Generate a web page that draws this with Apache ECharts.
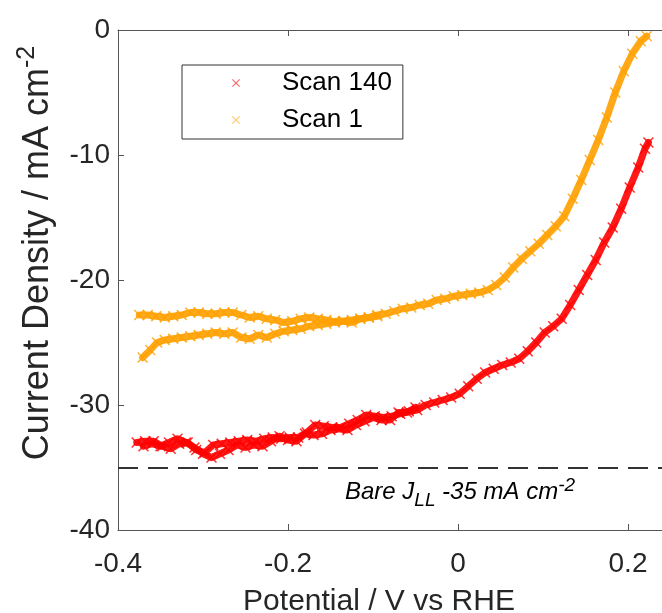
<!DOCTYPE html>
<html>
<head>
<meta charset="utf-8">
<script src="https://cdn.jsdelivr.net/npm/echarts@6/dist/echarts.min.js"></script>
<style>
html,body{margin:0;padding:0;background:#fff;}
#chart{width:662px;height:613px;}
</style>
</head>
<body>
<div id="chart"></div>
<script>
// ---- data ----
const xTicks = [-0.4, -0.2, 0, 0.2];
const yTicks = [-40, -30, -20, -10, 0];

// Scan 1 (orange) – branch A: lower-left start, up to the top right
const scan1AX = [-0.371,-0.362,-0.354,-0.345,-0.335,-0.325,-0.315,-0.305,-0.295,-0.285,-0.275,-0.265,-0.255,-0.245,-0.235,-0.225,-0.215,-0.205,-0.195,-0.185,-0.175,-0.165,-0.155,-0.145,-0.135,-0.125,-0.115,-0.105,-0.095,-0.085,-0.075,-0.065,-0.055,-0.045,-0.035,-0.025,-0.015,-0.005,0.005,0.015,0.025,0.035,0.045,0.055,0.065,0.075,0.085,0.095,0.105,0.115,0.125,0.135,0.145,0.155,0.165,0.175,0.185,0.195,0.205,0.215,0.222];
const scan1AY = [-26.2,-25.6,-25.0,-24.8,-24.7,-24.6,-24.5,-24.4,-24.3,-24.2,-24.3,-24.2,-24.6,-24.7,-24.4,-24.6,-24.3,-24.1,-24.0,-23.9,-23.7,-23.6,-23.5,-23.3,-23.3,-23.4,-23.1,-23.0,-22.8,-22.7,-22.5,-22.3,-22.2,-22.0,-21.9,-21.6,-21.5,-21.3,-21.2,-21.1,-21.0,-20.8,-20.4,-19.8,-19.0,-18.3,-17.7,-17.1,-16.4,-15.7,-14.9,-13.5,-12.0,-10.4,-8.8,-7.0,-5.0,-3.3,-1.9,-0.9,-0.5];
// Scan 1 – branch B: upper return branch on the left
const scan1BX = [-0.095,-0.105,-0.115,-0.125,-0.135,-0.145,-0.155,-0.165,-0.175,-0.185,-0.195,-0.205,-0.215,-0.225,-0.235,-0.245,-0.255,-0.265,-0.275,-0.285,-0.295,-0.305,-0.315,-0.325,-0.335,-0.345,-0.355,-0.365,-0.375];
const scan1BY = [-22.9,-23.0,-23.1,-23.2,-23.3,-23.4,-23.2,-23.1,-23.0,-23.1,-23.3,-23.4,-23.2,-23.1,-22.9,-23.0,-22.8,-22.6,-22.6,-22.7,-22.7,-22.6,-22.6,-22.8,-22.9,-23.0,-22.9,-22.8,-22.8];

// Scan 140 (red) – branch A
const scan140AX = [-0.378,-0.368,-0.358,-0.348,-0.338,-0.328,-0.318,-0.308,-0.298,-0.288,-0.278,-0.268,-0.258,-0.248,-0.238,-0.228,-0.218,-0.208,-0.198,-0.188,-0.178,-0.168,-0.158,-0.148,-0.138,-0.128,-0.118,-0.108,-0.098,-0.088,-0.078,-0.068,-0.058,-0.048,-0.038,-0.028,-0.018,-0.008,0.002,0.012,0.022,0.032,0.042,0.052,0.062,0.072,0.082,0.092,0.102,0.112,0.122,0.132,0.142,0.152,0.162,0.172,0.182,0.192,0.202,0.212,0.220,0.224];
const scan140AY = [-33.0,-32.9,-32.9,-33.3,-33.5,-33.1,-33.0,-33.6,-33.8,-33.2,-33.1,-33.0,-32.9,-32.8,-32.9,-32.7,-32.6,-32.7,-32.6,-32.6,-32.2,-31.6,-31.7,-31.8,-31.8,-31.5,-31.2,-30.8,-30.9,-31.0,-30.9,-30.7,-30.5,-30.4,-30.0,-29.8,-29.6,-29.4,-29.1,-28.5,-27.9,-27.4,-27.1,-26.8,-26.6,-26.3,-25.7,-25.0,-24.2,-23.7,-23.1,-22.0,-20.8,-19.6,-18.4,-17.0,-15.8,-14.3,-12.6,-11.0,-9.5,-9.0];
// Scan 140 – branch B
const scan140BX = [-0.05,-0.06,-0.07,-0.08,-0.09,-0.10,-0.11,-0.12,-0.13,-0.14,-0.15,-0.16,-0.17,-0.18,-0.19,-0.20,-0.21,-0.22,-0.23,-0.24,-0.25,-0.26,-0.27,-0.28,-0.29,-0.30,-0.31,-0.32,-0.33,-0.34,-0.35,-0.36,-0.37];
const scan140BY = [-30.2,-30.6,-30.6,-31.2,-31.2,-31.0,-31.3,-31.6,-32.0,-31.9,-32.0,-32.3,-32.4,-32.3,-32.9,-32.8,-32.5,-32.9,-33.3,-33.2,-33.4,-33.2,-33.6,-33.9,-34.2,-33.9,-33.4,-33.0,-32.7,-33.0,-33.3,-33.1,-33.3];

const bareJLL = -35;
const seriesNames = ['Scan 140', 'Scan 1'];

// ---- build ----
const zip = (xs, ys) => xs.map((x, i) => [x, ys[i]]);
const X_SYMBOL = 'path://M0,1L1,0L5,4L9,0L10,1L6,5L10,9L9,10L5,6L1,10L0,9L4,5Z';
const RED = '#ff0000', ORANGE = '#ffa000';
const FONT = 'Liberation Sans, Arial, sans-serif';

function band(name, color, data) {
  return {
    name, type: 'line', data,
    smooth: false,
    symbol: X_SYMBOL, symbolSize: 11, showSymbol: true, showAllSymbol: true,
    itemStyle: { color, opacity: 0.8 },
    lineStyle: { color, width: 7, opacity: 0.9, join: 'round', cap: 'round' },
    emphasis: { disabled: true },
    z: 3
  };
}

const chart = echarts.init(document.getElementById('chart'));
const axisLine = { show: true, onZero: false, lineStyle: { color: '#555', width: 1 } };
const tick = { show: true, inside: true, length: 6, lineStyle: { color: '#555' } };
const option = {
  animation: false,
  backgroundColor: '#fff',
  grid: { left: 118, right: 0, top: 30, bottom: 83, containLabel: false, outerBoundsMode: 'none' },
  legend: {
    data: seriesNames,
    icon: X_SYMBOL,
    orient: 'vertical',
    left: 182, top: 65,
    padding: [5, 11, 6, 50],
    itemGap: 11,
    itemWidth: 8, itemHeight: 8,
    borderColor: '#333', borderWidth: 1,
    backgroundColor: '#fff',
    itemStyle: { opacity: 0.6 },
    textStyle: { fontFamily: FONT, fontSize: 26, color: '#000', padding: [0, 0, 0, 37] }
  },
  xAxis: [{
    type: 'value', min: xTicks[0], max: 0.24, interval: 0.2,
    position: 'bottom',
    axisLine, axisTick: tick,
    splitLine: { show: false },
    axisLabel: { fontFamily: FONT, fontSize: 28, color: '#262626', margin: 20,
      formatter: v => (xTicks.some(t => Math.abs(t - v) < 1e-9) ? String(Math.round(v * 10) / 10) : '') },
    name: 'Potential / V vs RHE', nameLocation: 'middle', nameGap: 57,
    nameTextStyle: { fontFamily: FONT, fontSize: 30, color: '#262626', padding: [0, 22, 0, 0] }
  }, {
    type: 'value', min: xTicks[0], max: 0.24, interval: 0.2,
    position: 'top',
    axisLine, axisTick: tick,
    axisLabel: { show: false }, splitLine: { show: false }
  }],
  yAxis: [{
    type: 'value', min: yTicks[0], max: yTicks[yTicks.length - 1], interval: 10,
    axisLine, axisTick: tick,
    splitLine: { show: false },
    axisLabel: { fontFamily: FONT, fontSize: 28, color: '#262626', margin: 8 }
  }],
  series: [
    band(seriesNames[0], RED, zip(scan140AX, scan140AY)),
    band(seriesNames[0], RED, zip(scan140BX, scan140BY)),
    band(seriesNames[1], ORANGE, zip(scan1AX, scan1AY)),
    band(seriesNames[1], ORANGE, zip(scan1BX, scan1BY)),
    {
      name: 'bare', type: 'line', data: [],
      markLine: {
        silent: true, symbol: 'none', animation: false,
        label: { show: false },
        lineStyle: { color: '#333', width: 2, type: [20, 10] },
        data: [{ yAxis: bareJLL }]
      }
    }
  ]
};
chart.setOption(option);

// annotation + y-axis title, positioned through the chart's own scales
const annPos = chart.convertToPixel({ xAxisIndex: 0, yAxisIndex: 0 }, [-0.133, -36.9]);
chart.setOption({
  graphic: [{
    type: 'text', left: annPos[0], top: annPos[1] - 15,
    style: {
      text: '{a|Bare J}{sub|LL}{a| -35 mA cm}{sup|-2}',
      rich: {
        a: { fontFamily: FONT, fontStyle: 'italic', fontSize: 24, fill: '#000' },
        sub: { fontFamily: FONT, fontStyle: 'italic', fontSize: 19, fill: '#000', padding: [16, 0, 0, 0] },
        sup: { fontFamily: FONT, fontStyle: 'italic', fontSize: 19, fill: '#000', padding: [0, 0, 14, 0] }
      }
    }
  }, {
    type: 'text', x: 38, y: 253, rotation: Math.PI / 2,
    style: {
      text: '{a|Current Density / mA cm}{sup|-2}',
      align: 'center', verticalAlign: 'middle',
      rich: {
        a: { fontFamily: FONT, fontSize: 36, fill: '#262626' },
        sup: { fontFamily: FONT, fontSize: 25, fill: '#262626', padding: [0, 0, 22, 0] }
      }
    }
  }]
});
</script>
</body>
</html>
